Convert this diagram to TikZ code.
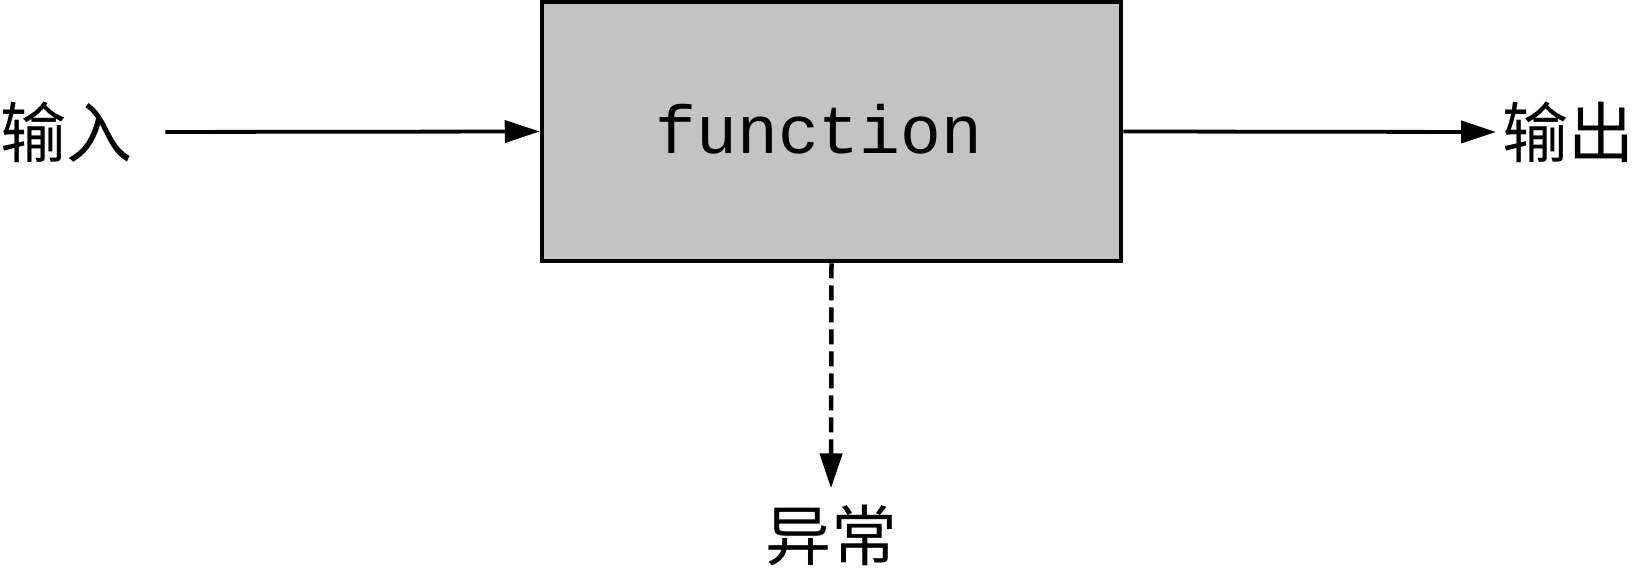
\documentclass[tikz,border=0pt]{standalone}
\usepackage{fontspec}
\setmonofont{Liberation Mono}
\newfontfamily\cjk{Noto Sans CJK SC}
\usetikzlibrary{arrows.meta}
\definecolor{boxgray}{HTML}{C3C3C3}
\begin{document}
\begin{tikzpicture}[x=1pt,y=-1pt,
  fbox/.style={draw=black, line width=4.5pt, fill=boxgray, inner sep=0pt},
  ftxt/.style={inner sep=0pt, font=\ttfamily\fontsize{68}{68}\selectfont},
  lbl/.style={inner sep=0pt, font=\cjk\fontsize{66}{66}\selectfont},
  arr/.style={line width=3.8pt, -{Triangle[length=35pt,width=22pt]}},
  darr/.style={arr, line width=4.5pt, dash pattern=on 15pt off 7pt}]
\useasboundingbox (0,0) rectangle (1650,573);
\fill[white] (0,0) rectangle (1650,573);
\node[fbox, minimum width=579pt, minimum height=259pt] (f) at (831.5,131.5) {};
\node[ftxt] (ftext) at (819,129) {function};
\node[lbl, anchor=west] (in) at (0,132) {输入};
\node[lbl, anchor=west] (out) at (1502,132) {输出};
\node[lbl] (exc) at (831,535) {异常};
\draw[arr, shorten <=33pt] (in.east) -- (f.west);
\draw[arr, shorten >=6pt] (f.east) -- (out.west);
\draw[darr, shorten >=16pt] (f.south) -- (exc.north);
\end{tikzpicture}
\end{document}
